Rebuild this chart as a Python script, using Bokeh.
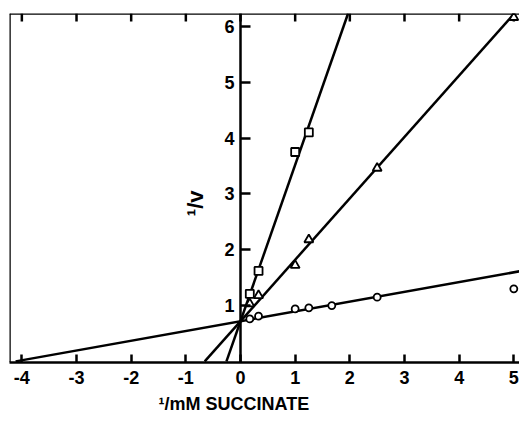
import math
from bokeh.plotting import figure
from bokeh.models import LinearAxis, FixedTicker, Label, Span, Title
from bokeh.embed import file_html
from bokeh.resources import INLINE

# ---- data ----
x_ticks = [-4, -3, -2, -1, 0, 1, 2, 3, 4, 5]
x_tick_labels = ["-4", "-3", "-2", "-1", "0", "1", "2", "3", "4", "5"]
y_ticks = [1, 2, 3, 4, 5, 6]
y_tick_labels = ["1", "2", "3", "4", "5", "6"]

x_circle = [0.17, 0.33, 1.0, 1.25, 1.67, 2.5, 5.0]
y_circle = [0.76, 0.81, 0.94, 0.96, 1.0, 1.15, 1.30]
x_square = [0.17, 0.33, 1.0, 1.25]
y_square = [1.21, 1.62, 3.75, 4.10]
x_triangle = [0.17, 0.33, 1.0, 1.25, 2.5, 5.0]
y_triangle = [1.03, 1.18, 1.72, 2.18, 3.46, 6.16]

line_intercept = 0.72
slope_square = 2.80
slope_triangle = 1.10
slope_circle = 0.175

x_title = "¹/mM SUCCINATE"
y_title = "¹/v"

X_MIN, X_MAX = -4.226, 5.104
Y_MIN, Y_MAX = -0.02, 6.23

FONT = "Liberation Sans"

p = figure(width=519, height=421, x_range=(X_MIN, X_MAX), y_range=(Y_MIN, Y_MAX),
           output_backend="svg", toolbar_location=None, y_axis_location=None,
           min_border_left=9, min_border_right=0, min_border_top=13, min_border_bottom=59)
p.grid.visible = False
p.outline_line_color = None
p.background_fill_color = "white"
p.border_fill_color = "white"

# bottom axis
xa = p.xaxis[0]
xa.ticker = FixedTicker(ticks=x_ticks)
xa.major_label_overrides = {t: s for t, s in zip(x_ticks, x_tick_labels)}
xa.major_tick_in = 8
xa.major_tick_out = 0
xa.minor_tick_in = 0
xa.minor_tick_out = 0
xa.axis_line_width = 2.5
xa.major_tick_line_width = 2.5
xa.major_label_text_font = FONT
xa.major_label_text_font_style = "bold"
xa.major_label_text_font_size = "18px"
xa.major_label_text_color = "black"
xa.major_label_standoff = 8

# x title below the axis, placed left of centre as in the original
p.add_layout(Title(text=x_title, align="left", offset=149, standoff=11,
                   text_font=FONT, text_font_style="bold", text_font_size="18px",
                   text_color="black"), "below")

# left and top borders of the frame
p.add_layout(Span(location=X_MIN, dimension="height", line_color="black", line_width=2.5))
p.add_layout(Span(location=Y_MAX, dimension="width", line_color="black", line_width=2.5))
# inward ticks on the top border
tick_len = 8 / 55.8
p.segment(x0=x_ticks, y0=[Y_MAX] * len(x_ticks), x1=x_ticks,
          y1=[Y_MAX - tick_len] * len(x_ticks), line_color="black", line_width=2.5)

# y axis crossing at x = 0
y0 = LinearAxis(fixed_location=0, ticker=FixedTicker(ticks=y_ticks),
                major_label_overrides={t: s for t, s in zip(y_ticks, y_tick_labels)},
                major_tick_in=10, major_tick_out=0, minor_tick_in=0, minor_tick_out=0,
                axis_line_width=2.5, major_tick_line_width=2.5,
                major_label_text_font=FONT, major_label_text_font_style="bold",
                major_label_text_font_size="18px", major_label_text_color="black",
                major_label_standoff=6)
p.add_layout(y0, "left")

# regression lines (from x-intercept to the frame edge)
def line_pts(slope):
    x_start = max(X_MIN, -line_intercept / slope)
    x_end = min(X_MAX, (Y_MAX - line_intercept) / slope)
    return [x_start, x_end], [line_intercept + slope * x_start, line_intercept + slope * x_end]

for s in (slope_square, slope_triangle, slope_circle):
    xs, ys = line_pts(s)
    p.line(xs, ys, line_color="black", line_width=2.5)

p.scatter(x_circle, y_circle, marker="circle", size=7, fill_color="white",
          line_color="black", line_width=1.8)
p.scatter(x_square, y_square, marker="square", size=8, fill_color="white",
          line_color="black", line_width=1.8)
p.scatter(x_triangle, y_triangle, marker="triangle", size=9, fill_color="white",
          line_color="black", line_width=1.8)

p.add_layout(Label(x=-0.82, y=2.83, text=y_title, text_font=FONT, text_font_style="bold",
                   text_font_size="22px", text_align="center", text_baseline="middle",
                   angle=math.pi / 2, text_color="black"))

open("out.html", "w").write(file_html(p, INLINE))
